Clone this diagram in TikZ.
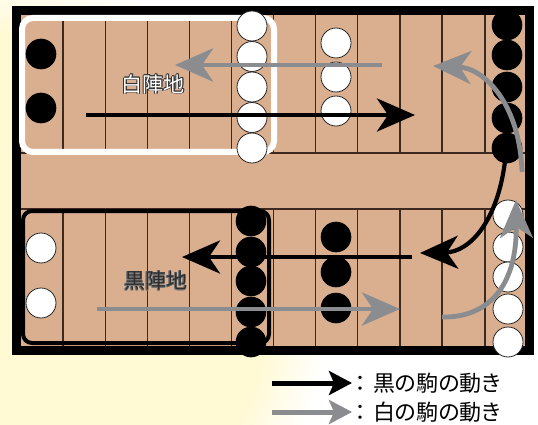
\documentclass[tikz,border=0pt]{standalone}
\usepackage{fontspec}
\newfontfamily\jp{Noto Sans CJK JP}
\newfontfamily\jpp[RawFeature=+palt]{Noto Sans CJK JP}
\usetikzlibrary{arrows.meta}
\definecolor{bgy}{RGB}{255,249,212}
\definecolor{tanb}{RGB}{217,175,144}
\definecolor{gridc}{RGB}{60,42,32}
\definecolor{gry}{RGB}{138,140,143}
\pgfdeclareradialshading{bgshade}{\pgfpoint{0bp}{0bp}}{color(0bp)=(bgy); color(265bp)=(bgy); color(330bp)=(white); color(700bp)=(white)}
\newcommand{\halocopy}[4]{\makebox[0pt][l]{\kern#2\raisebox{#3}{\color{#1}#4}}}
\newcommand{\halotext}[5]{% #1 halo colour, #2 fill colour, #3 offset, #4 diagonal offset, #5 text
  \halocopy{#1}{#3}{0pt}{#5}\halocopy{#1}{-#3}{0pt}{#5}%
  \halocopy{#1}{0pt}{#3}{#5}\halocopy{#1}{0pt}{-#3}{#5}%
  \halocopy{#1}{#4}{#4}{#5}\halocopy{#1}{-#4}{#4}{#5}%
  \halocopy{#1}{#4}{-#4}{#5}\halocopy{#1}{-#4}{-#4}{#5}%
  {\color{#2}#5}}
\tikzset{
  bpiece/.style={circle, fill=black, draw=black, line width=0.6pt, minimum size=30pt, inner sep=0pt},
  wpiece/.style={circle, fill=white, draw=black!85, line width=0.8pt, minimum size=30pt, inner sep=0pt},
  blkarrow/.style={line width=4.2pt, draw=black, -{Stealth[length=38pt,width=33pt,inset=11pt]}},
  gryarrow/.style={line width=4.8pt, draw=gry, -{Stealth[length=38pt,width=33pt,inset=11pt]}},
  legarrow/.style={line width=5pt, -{Stealth[length=23pt,width=24pt,inset=5pt]}},
  gridline/.style={draw=gridc, line width=1.2pt},
  camp/.style={font=\jp\fontsize{21}{21}\selectfont, inner sep=0pt},
  legtext/.style={font=\jpp\fontsize{22}{22}\selectfont, anchor=west, inner sep=0pt}
}
\begin{document}
\begin{tikzpicture}[x=1pt,y=-1pt]
\useasboundingbox (0,0) rectangle (538,425);
% background
\begin{scope}
\clip (0,0) rectangle (538,425);
\node[inner sep=0pt] (bg) at (0,300) {\pgfuseshading{bgshade}};
\end{scope}
% board
\fill[black] (12,6) rectangle (534,355);
\fill[tanb] (21,15) rectangle (525,346);
\foreach \x in {63,105.5,147.5,189.5,231.5,273.5,315.5,357.5,400,442,485}{
  \draw[gridline] (\x,15) -- (\x,153);
  \draw[gridline] (\x,209) -- (\x,346);
}
\draw[gridline] (21,153) -- (525,153);
\draw[gridline] (21,209) -- (525,209);
% camps
\draw[white, line width=6pt, rounded corners=11pt] (22,18) rectangle (274,152);
\draw[black, line width=4pt, rounded corners=9pt] (23,211) rectangle (269,343);
% pieces upper
\foreach \y [count=\i] in {26,56.5,87,117.5,148} \node[wpiece] (uw\i) at (252,\y) {};
\foreach \y [count=\i] in {54,108} \node[bpiece] (ub\i) at (41,\y) {};
\foreach \y [count=\i] in {43,77,111} \node[wpiece] (um\i) at (336,\y) {};
\foreach \y [count=\i] in {25,55,87,118,148} \node[bpiece] (ur\i) at (507,\y) {};
% pieces lower
\foreach \y [count=\i] in {221,252,281,312,342} \node[bpiece] (lb\i) at (251,\y) {};
\foreach \y [count=\i] in {248,303} \node[wpiece] (lw\i) at (41,\y) {};
\foreach \y [count=\i] in {237,272,308} \node[bpiece] (lm\i) at (336,\y) {};
\foreach \y [count=\i] in {215,247,277,309,342} \node[wpiece] (lr\i) at (508,\y) {};
% arrows
\coordinate (a1s) at (86,115); \coordinate (a1e) at (415,115);
\coordinate (a2s) at (382,65); \coordinate (a2e) at (175,65);
\coordinate (a3s) at (412,257); \coordinate (a3e) at (182,257);
\coordinate (a4s) at (97,309); \coordinate (a4e) at (400,309);
\coordinate (c1s) at (522,172); \coordinate (c1e) at (433,66);
\coordinate (c2s) at (506,152); \coordinate (c2e) at (420,253);
\coordinate (c3s) at (442,317); \coordinate (c3e) at (516,200);
\draw[blkarrow] (a1s) -- (a1e);
\draw[gryarrow] (a2s) -- (a2e);
\draw[blkarrow] (a3s) -- (a3e);
\draw[gryarrow] (a4s) -- (a4e);
\draw[gryarrow] (c1s) .. controls (520,105) and (485,68) .. (c1e);
\draw[blkarrow] (c2s) .. controls (500,220) and (470,252) .. (c2e);
\draw[gryarrow] (c3s) .. controls (485,318) and (517,290) .. (c3e);
% camp labels
\node[camp] (wcamp) at (153,84) {\halotext{black!80}{white}{0.7pt}{0.5pt}{白陣地}};
\node[camp] (bcamp) at (155.5,281) {\halotext{black!55}{black!82}{0.7pt}{0.5pt}{黒陣地}};
% legend
\coordinate (l1s) at (272,383); \coordinate (l1e) at (352,383);
\coordinate (l2s) at (272,412); \coordinate (l2e) at (352,412);
\draw[legarrow, black] (l1s) -- (l1e);
\draw[legarrow, gry] (l2s) -- (l2e);
\node[legtext] (lt1) at (355,383) {：\hspace{7pt}黒の駒の動き};
\node[legtext] (lt2) at (355,412) {：\hspace{7pt}白の駒の動き};
\end{tikzpicture}
\end{document}
